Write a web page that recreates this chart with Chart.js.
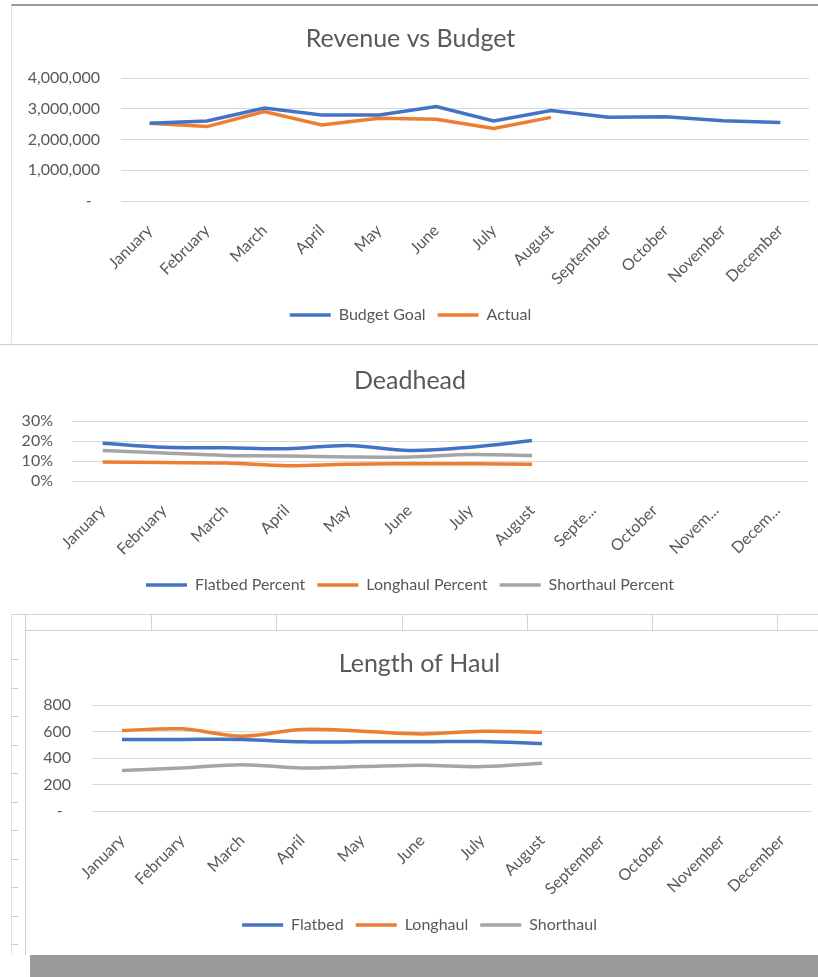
<!DOCTYPE html>
<html>
<head>
<meta charset="utf-8">
<script src="https://cdn.jsdelivr.net/npm/chart.js@4"></script>
<style>
  html, body { margin: 0; padding: 0; background: #fff; }
  body { width: 818px; height: 977px; position: relative; overflow: hidden; }
  .box { position: absolute; background: #fff; }
  .ln { position: absolute; background: #d4d4d4; }
</style>
</head>
<body>
<!-- excel chrome around the charts -->
<div class="ln" style="left:11px;top:4px;width:807px;height:2px;background:#9a9a9a"></div>
<div class="ln" style="left:11px;top:5px;width:1px;height:338px;background:#e2e2e2"></div>
<div class="ln" style="left:0;top:344px;width:818px;height:1px;background:#cfcfcf"></div>
<div class="ln" style="left:11px;top:614px;width:807px;height:1px"></div>
<div class="ln" style="left:11px;top:614px;width:1px;height:341px;background:#e4e4e4"></div>
<div class="ln" style="left:25px;top:614px;width:1px;height:341px;background:#cfcfcf"></div>
<div class="ln" style="left:25px;top:630px;width:793px;height:1px"></div>
<div id="cells"></div>
<div id="rows"></div>
<div class="ln" style="left:30px;top:955px;width:788px;height:22px;background:#9b9b9b"></div>

<div class="box" style="left:12px;top:6px;width:806px;height:334px"><canvas id="chartRevenue"></canvas></div>
<div class="box" style="left:12px;top:348px;width:806px;height:262px"><canvas id="chartDeadhead"></canvas></div>
<div class="box" style="left:27px;top:632px;width:791px;height:322px"><canvas id="chartHaul"></canvas></div>

<script>
// data
const months = ['January', 'February', 'March', 'April', 'May', 'June', 'July', 'August', 'September', 'October', 'November', 'December']
const monthsShort = ['January', 'February', 'March', 'April', 'May', 'June', 'July', 'August', 'Septe...', 'October', 'Novem...', 'Decem...']

const budgetGoal = [2530000, 2600000, 3020000, 2800000, 2800000, 3070000, 2600000, 2940000, 2720000, 2740000, 2610000, 2550000]
const actual = [2530000, 2420000, 2910000, 2470000, 2690000, 2660000, 2360000, 2720000]

const flatbedPct = [18.9, 16.9, 16.6, 16.1, 17.8, 15.3, 16.9, 20.2]
const longhaulPct = [9.5, 9.2, 9.0, 7.6, 8.4, 8.6, 8.6, 8.4]
const shorthaulPct = [15.3, 14.0, 12.8, 12.5, 12.0, 12.0, 13.2, 12.7]

const flatbed = [540, 540, 540, 522, 522, 522, 525, 510]
const longhaul = [607, 620, 565, 615, 602, 582, 602, 595]
const shorthaul = [305, 325, 350, 325, 335, 345, 335, 360]

const revenueTicks = [0, 1000000, 2000000, 3000000, 4000000]
const pctTicks = [0, 10, 20, 30]
const haulTicks = [0, 200, 400, 600, 800]

// spreadsheet cell lines between chart 2 and 3
const cellXs = [151, 276, 402, 527, 652, 777]
cellXs.forEach(x => {
    const d = document.createElement('div')
    d.className = 'ln'
    d.style.cssText = 'left:' + x + 'px;top:614px;width:1px;height:16px'
    document.getElementById('cells').appendChild(d)
})
for (let y = 659; y < 955; y += 28.5) {
    const d = document.createElement('div')
    d.className = 'ln'
    d.style.cssText = 'left:11px;top:' + Math.round(y) + 'px;width:7px;height:1px;background:#c8c8c8'
    document.getElementById('rows').appendChild(d)
}

const blue = '#4472c4'
const orange = '#ed7d31'
const gray = '#a5a5a5'
const textColor = '#595959'
const gridColor = '#d9d9d9'
const fontFamily = 'Lato, "Noto Sans", sans-serif'

Chart.defaults.font.family = fontFamily
Chart.defaults.color = textColor
Chart.defaults.animation = false

function line(label, data, color, tension) {
    return {
        label: label,
        data: data,
        borderColor: color,
        backgroundColor: color,
        borderWidth: 3.5,
        pointRadius: 0,
        tension: tension
    }
}

function makeConfig(opts) {
    return {
        type: 'line',
        data: { labels: opts.labels, datasets: opts.datasets },
        options: {
            responsive: true,
            maintainAspectRatio: false,
            layout: { padding: { left: 0, right: opts.padRight, top: 0, bottom: opts.padBottom } },
            plugins: {
                title: {
                    display: true,
                    text: opts.title,
                    color: textColor,
                    font: { size: 25, weight: 'normal', family: fontFamily },
                    padding: { top: opts.titleTop, bottom: opts.titleBottom }
                },
                legend: {
                    position: 'bottom',
                    labels: {
                        usePointStyle: true,
                        pointStyle: 'line',
                        pointStyleWidth: 41,
                        color: textColor,
                        font: { size: 16, family: fontFamily },
                        padding: 12
                    }
                },
                tooltip: { enabled: false }
            },
            scales: {
                x: {
                    offset: true,
                    grid: { display: false },
                    border: { display: false },
                    afterFit: s => { s.height = opts.xHeight },
                    ticks: {
                        autoSkip: false,
                        maxRotation: 45,
                        minRotation: 45,
                        padding: opts.xPad,
                        color: textColor,
                        font: { size: 16, family: fontFamily }
                    }
                },
                y: {
                    min: opts.yMin,
                    max: opts.yMax,
                    afterFit: s => { s.width = opts.yWidth },
                    afterBuildTicks: s => { s.ticks = opts.yTicks.map(v => ({ value: v })) },
                    grid: { color: gridColor, lineWidth: 1, drawTicks: false },
                    border: { display: false },
                    ticks: {
                        autoSkip: false,
                        padding: opts.yPad,
                        color: textColor,
                        font: { size: 16, family: fontFamily },
                        callback: opts.yFormat
                    }
                }
            }
        }
    }
}

new Chart(document.getElementById('chartRevenue'), makeConfig({
    labels: months,
    title: 'Revenue vs Budget',
    datasets: [
        line('Budget Goal', budgetGoal, blue, 0),
        line('Actual', actual, orange, 0)
    ],
    yMin: 0, yMax: 4000000, yTicks: revenueTicks,
    yFormat: v => v === 0 ? '-  ' : v.toLocaleString('en-US'),
    yWidth: 109, yPad: 21,
    xHeight: 94, xPad: 12,
    titleTop: 18, titleBottom: 24,
    padRight: 9, padBottom: 7
}))

new Chart(document.getElementById('chartDeadhead'), makeConfig({
    labels: monthsShort,
    title: 'Deadhead',
    datasets: [
        line('Flatbed Percent', flatbedPct, blue, 0.35),
        line('Longhaul Percent', longhaulPct, orange, 0.35),
        line('Shorthaul Percent', shorthaulPct, gray, 0.35)
    ],
    yMin: 0, yMax: 30, yTicks: pctTicks,
    yFormat: v => v + '%',
    yWidth: 60, yPad: 19,
    xHeight: 84, xPad: 12,
    titleTop: 18, titleBottom: 25,
    padRight: 10, padBottom: 7
}))

new Chart(document.getElementById('chartHaul'), makeConfig({
    labels: months,
    title: 'Length of Haul',
    datasets: [
        line('Flatbed', flatbed, blue, 0.35),
        line('Longhaul', longhaul, orange, 0.35),
        line('Shorthaul', shorthaul, gray, 0.35)
    ],
    yMin: 0, yMax: 800, yTicks: haulTicks,
    yFormat: v => v === 0 ? '-  ' : v,
    yWidth: 65, yPad: 21,
    xHeight: 94, xPad: 12,
    titleTop: 17, titleBottom: 26,
    padRight: 6, padBottom: 11
}))
</script>
</body>
</html>
